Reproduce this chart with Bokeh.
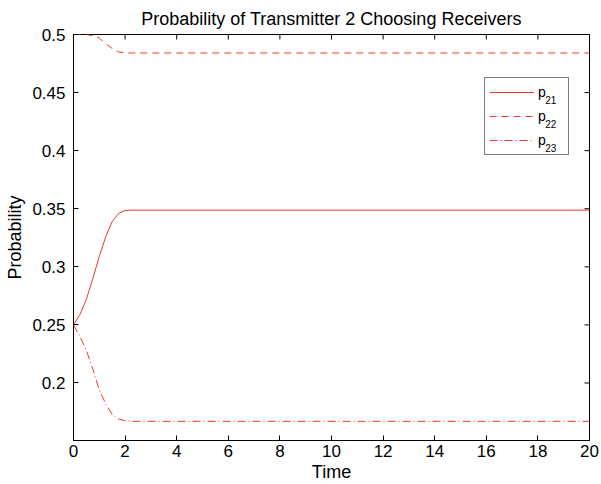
import math
from bokeh.plotting import figure
from bokeh.models import FixedTicker, Range1d, Legend, LegendItem
from bokeh.core.properties import value
from bokeh.embed import file_html
from bokeh.resources import INLINE

# ---- data ----
time = [0.0, 0.25, 0.5, 0.75, 1.0, 1.25, 1.5, 1.75, 2.0, 2.25, 2.5, 3.0, 20.0]
p21 = [0.250, 0.259, 0.272, 0.290, 0.309, 0.326, 0.339, 0.346, 0.3485, 0.3488, 0.3488, 0.3488, 0.3488]
p22 = [0.500, 0.500, 0.500, 0.499, 0.497, 0.492, 0.488, 0.485, 0.4842, 0.4841, 0.4841, 0.4841, 0.4841]
p23 = [0.250, 0.240, 0.228, 0.212, 0.194, 0.182, 0.173, 0.169, 0.1675, 0.167, 0.167, 0.167, 0.167]
legend_base = "p"
legend_subs = ["21", "22", "23"]
x_ticks = [0, 2, 4, 6, 8, 10, 12, 14, 16, 18, 20]
y_ticks = [0.2, 0.25, 0.3, 0.35, 0.4, 0.45, 0.5]
y_tick_labels = ["0.2", "0.25", "0.3", "0.35", "0.4", "0.45", "0.5"]
x_min, x_max = 0, 20
y_min, y_max = 0.1505, 0.5

FONT = "Liberation Sans"
RED = "#e8382f"

W, H = 601, 484
BL, BR, BT, BB = 73, 12, 34, 44
FW, FH = W - BL - BR, H - BT - BB

def sx_to_x(sx):
    return x_min + (sx - BL) / FW * (x_max - x_min)

def sy_to_y(sy):
    return y_max - (sy - BT) / FH * (y_max - y_min)

p = figure(width=W, height=H, output_backend="svg", toolbar_location=None,
           x_range=Range1d(x_min, x_max), y_range=Range1d(y_min, y_max),
           title="Probability of Transmitter 2 Choosing Receivers",
           min_border_left=BL, min_border_right=BR, min_border_top=BT, min_border_bottom=BB)
p.background_fill_color = "white"
p.border_fill_color = "white"
p.outline_line_color = "black"
p.outline_line_width = 1
p.xgrid.visible = False
p.ygrid.visible = False

p.title.align = "center"
p.title.text_font = FONT
p.title.text_font_size = "18px"
p.title.text_font_style = "normal"
p.title.text_color = "black"
p.title.standoff = 11

for ax in p.xaxis + p.yaxis:
    ax.axis_line_color = "black"
    ax.major_tick_line_color = "black"
    ax.major_tick_in = 5
    ax.major_tick_out = 0
    ax.minor_tick_line_color = None
    ax.major_label_text_font = FONT
    ax.major_label_text_font_size = "17px"
    ax.major_label_text_color = "black"
    ax.axis_label_text_font = FONT
    ax.axis_label_text_font_size = "18px"
    ax.axis_label_text_font_style = "normal"
    ax.axis_label_text_color = "black"

p.xaxis.ticker = FixedTicker(ticks=x_ticks)
p.yaxis.ticker = FixedTicker(ticks=y_ticks)
p.yaxis.major_label_overrides = {t: s for t, s in zip(y_ticks, y_tick_labels)}
p.xaxis.axis_label = "Time"
p.yaxis.axis_label = "Probability"
p.xaxis.major_label_standoff = 4
p.xaxis.axis_label_standoff = 2
p.yaxis.major_label_standoff = 8
p.yaxis.axis_label_standoff = 4

# inward tick marks on the top and right edges of the box
p.ray(x=x_ticks, y=[y_max] * len(x_ticks), length=5, length_units="screen",
      angle=-math.pi / 2, line_color="black", line_width=1)
p.ray(x=[x_max] * len(y_ticks), y=y_ticks, length=5, length_units="screen",
      angle=math.pi, line_color="black", line_width=1)

r1 = p.line(time, p21, line_color=RED, line_width=1)
r2 = p.line(time, p22, line_color=RED, line_width=1, line_dash="7 5")
r3 = p.line(time, p23, line_color=RED, line_width=1, line_dash="8 3 1 3")

# legend box (canvas coordinates of the reference legend)
LEG_LEFT, LEG_TOP = 484, 79
PAD, GW, GH, SPACING, STANDOFF, LABEL_W = 4, 45, 20, 4, 4, 26
n = len(legend_subs)
leg_h = 2 * PAD + n * GH + (n - 1) * SPACING
frame_bottom = H - BB
legend = Legend(items=[LegendItem(label=legend_base, renderers=[r])
                       for r in (r1, r2, r3)],
                location=(LEG_LEFT - BL, frame_bottom - (LEG_TOP + leg_h)))
legend.border_line_color = "black"
legend.border_line_width = 1
legend.background_fill_alpha = 0
legend.label_text_font = FONT
legend.label_text_font_size = "14px"
legend.label_text_color = "black"
legend.glyph_width = GW
legend.glyph_height = GH
legend.label_height = GH
legend.label_width = LABEL_W
legend.label_standoff = STANDOFF
legend.spacing = SPACING
legend.padding = PAD
legend.margin = 0
p.add_layout(legend, "center")

# subscripts of the legend labels (legend box is transparent, so they show through)
sub_sx = LEG_LEFT + PAD + GW + STANDOFF + 7.8
sub_x = [sx_to_x(sub_sx)] * n
sub_y = [sy_to_y(LEG_TOP + PAD + GH / 2 + i * (GH + SPACING) + 6) for i in range(n)]
p.text(x=sub_x, y=sub_y, text=legend_subs, text_font=value(FONT), text_font_size="10px",
       text_color="black", text_baseline="alphabetic", text_align="left")

open("out.html", "w").write(file_html(p, INLINE))
